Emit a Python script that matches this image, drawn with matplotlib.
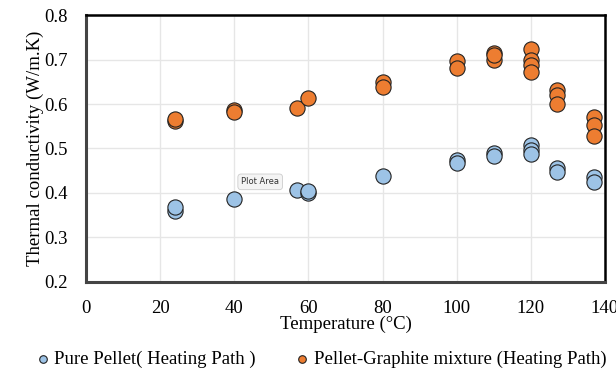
import numpy as np
import matplotlib.pyplot as plt

plt.rcParams['font.family'] = ['Liberation Serif', 'DejaVu Serif']

# Pure pellet (heating path)
pure_T = [24, 24, 40, 57, 60, 60, 80, 100, 100, 110, 110, 120, 120, 120, 127, 127, 137, 137]
pure_k = [0.360, 0.369, 0.386, 0.407, 0.399, 0.405, 0.438, 0.474, 0.467, 0.489, 0.484,
          0.508, 0.497, 0.488, 0.455, 0.448, 0.437, 0.425]

# Pellet-graphite mixture (heating path)
mix_T = [24, 24, 40, 40, 57, 60, 80, 80, 100, 100, 110, 110, 110, 120, 120, 120, 120,
         127, 127, 127, 137, 137, 137]
mix_k = [0.562, 0.566, 0.587, 0.581, 0.590, 0.613, 0.650, 0.639, 0.697, 0.680, 0.714,
         0.700, 0.710, 0.723, 0.699, 0.688, 0.673, 0.631, 0.620, 0.600, 0.571, 0.553, 0.528]

fig = plt.figure(figsize=(6.16, 3.68), dpi=100)
ax = fig.add_axes([0.1396, 0.234, 0.8424, 0.725])

ax.scatter(pure_T, pure_k, s=120, c='#9DC3E6', edgecolors='#222222', linewidths=0.8,
           label='Pure Pellet( Heating Path )', zorder=3)
ax.scatter(mix_T, mix_k, s=120, c='#ED7D31', edgecolors='#222222', linewidths=0.8,
           label='Pellet-Graphite mixture (Heating Path)', zorder=3)

ax.set_xlim(0, 140)
ax.set_ylim(0.2, 0.8)
ax.set_xticks(np.arange(0, 141, 20))
ax.set_yticks(np.arange(0.2, 0.81, 0.1))
ax.set_yticklabels(['0.2', '0.3', '0.4', '0.5', '0.6', '0.7', '0.8'])
ax.tick_params(length=0, labelsize=13.5)
ax.tick_params(axis='y', pad=13)
ax.tick_params(axis='x', pad=13)
ax.grid(True, color='#e6e6e6', linewidth=1)
ax.set_axisbelow(True)

for side in ['left', 'bottom']:
    ax.spines[side].set_color('#444444')
    ax.spines[side].set_linewidth(2.2)
for side in ['top', 'right']:
    ax.spines[side].set_color('black')
    ax.spines[side].set_linewidth(1.8)

ax.set_xlabel('Temperature (°C)', fontsize=13.5, labelpad=-1)
ax.set_ylabel('Thermal conductivity (W/m.K)', fontsize=13.5, labelpad=0)

ax.text(47, 0.425, 'Plot Area', fontsize=6, family='DejaVu Sans', color='#333333',
        ha='center', va='center',
        bbox=dict(boxstyle='round,pad=0.4', fc='#f4f4f4', ec='#cccccc', lw=0.6))

fig.legend(loc='lower center', bbox_to_anchor=(0.522, -0.045), ncol=2, frameon=False,
           fontsize=13.5, markerscale=0.5, handlelength=0.6, handletextpad=0.3,
           columnspacing=2.2)

fig.savefig('out.png', dpi=100)
